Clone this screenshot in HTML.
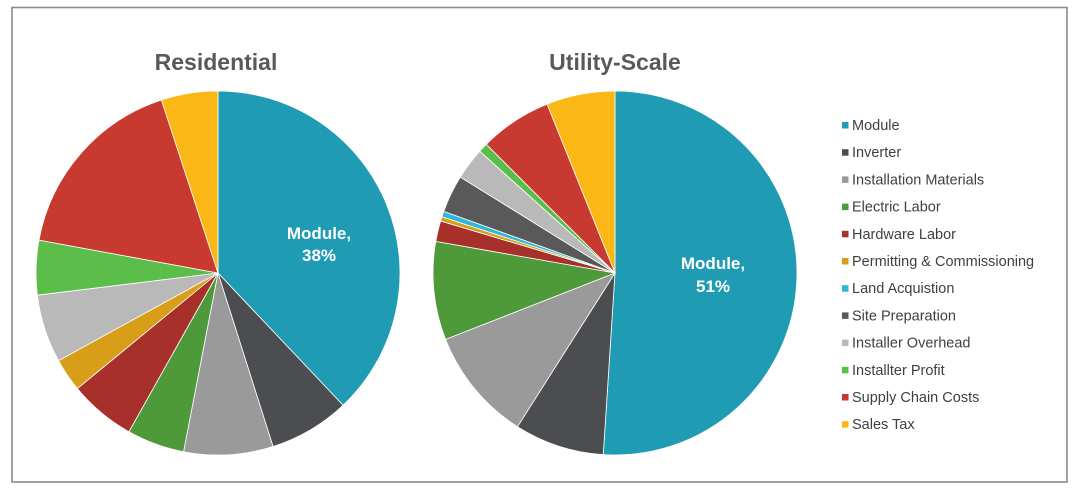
<!DOCTYPE html>
<html><head><meta charset="utf-8"><style>
html,body{margin:0;padding:0;background:#fff;}
svg{display:block;font-family:"Liberation Sans",Arial,sans-serif;}
</style></head><body>
<svg id="s" width="1080" height="491" viewBox="0 0 1080 491" xmlns="http://www.w3.org/2000/svg">
<rect x="12" y="7.5" width="1055" height="474.5" fill="#fff" stroke="#8a8a8a" stroke-width="1.6"/>
<text x="216" y="70" text-anchor="middle" font-size="23" font-weight="bold" fill="#595959">Residential</text>
<text x="615" y="70" text-anchor="middle" font-size="23" font-weight="bold" fill="#595959">Utility-Scale</text>
<g id="p1"></g><g id="p2"></g>
<text x="319" y="239" text-anchor="middle" font-size="17" font-weight="bold" fill="#fff">Module,</text>
<text x="319" y="261" text-anchor="middle" font-size="17" font-weight="bold" fill="#fff">38%</text>
<text x="713" y="269" text-anchor="middle" font-size="17" font-weight="bold" fill="#fff">Module,</text>
<text x="713" y="292" text-anchor="middle" font-size="17" font-weight="bold" fill="#fff">51%</text>
<g id="lg" font-size="14.5" fill="#404040"></g>
</svg>
<script>
var C=["#1f9bb3","#4b4d50","#9a9a9a","#4e9a3a","#a8302b","#d89e1a","#2fb8d6","#595959","#b9b9b9","#5bbd4a","#c8392f","#fbb716"];
var N=["Module","Inverter","Installation Materials","Electric Labor","Hardware Labor","Permitting & Commissioning","Land Acquistion","Site Preparation","Installer Overhead","Installter Profit","Supply Chain Costs","Sales Tax"];
var ns="http://www.w3.org/2000/svg";
function pie(g,cx,cy,r,ends){
  var a0=0;
  for(var i=0;i<ends.length;i++){
    var a1=ends[i]; if(a1<=a0){continue;}
    var t0=a0*Math.PI/180,t1=a1*Math.PI/180;
    var x0=cx+r*Math.sin(t0),y0=cy-r*Math.cos(t0),x1=cx+r*Math.sin(t1),y1=cy-r*Math.cos(t1);
    var p=document.createElementNS(ns,"path");
    p.setAttribute("d","M"+cx+","+cy+"L"+x0+","+y0+"A"+r+","+r+" 0 "+((a1-a0)>180?1:0)+" 1 "+x1+","+y1+"Z");
    p.setAttribute("fill",C[i]);p.setAttribute("stroke","#fff");p.setAttribute("stroke-width","0.8");
    g.appendChild(p);a0=a1;
  }
}
pie(document.getElementById("p1"),218,273,182,[136.6,162.4,190.9,209.3,230.6,241.2,241.2,241.2,263,280.4,341.9,360]);
pie(document.getElementById("p2"),615,273,182,[183.7,212.4,248.6,280,286.6,288,289.8,301.8,312,315,338.1,360]);
var lg=document.getElementById("lg");
for(var i=0;i<12;i++){
  var y=125+i*27.2;
  var r=document.createElementNS(ns,"rect");
  r.setAttribute("x",842);r.setAttribute("y",y-3);r.setAttribute("width",6.5);r.setAttribute("height",6.5);r.setAttribute("fill",C[i]);
  lg.appendChild(r);
  var t=document.createElementNS(ns,"text");
  t.setAttribute("x",852);t.setAttribute("y",y+5);t.textContent=N[i];
  lg.appendChild(t);
}
</script>
</body></html>
